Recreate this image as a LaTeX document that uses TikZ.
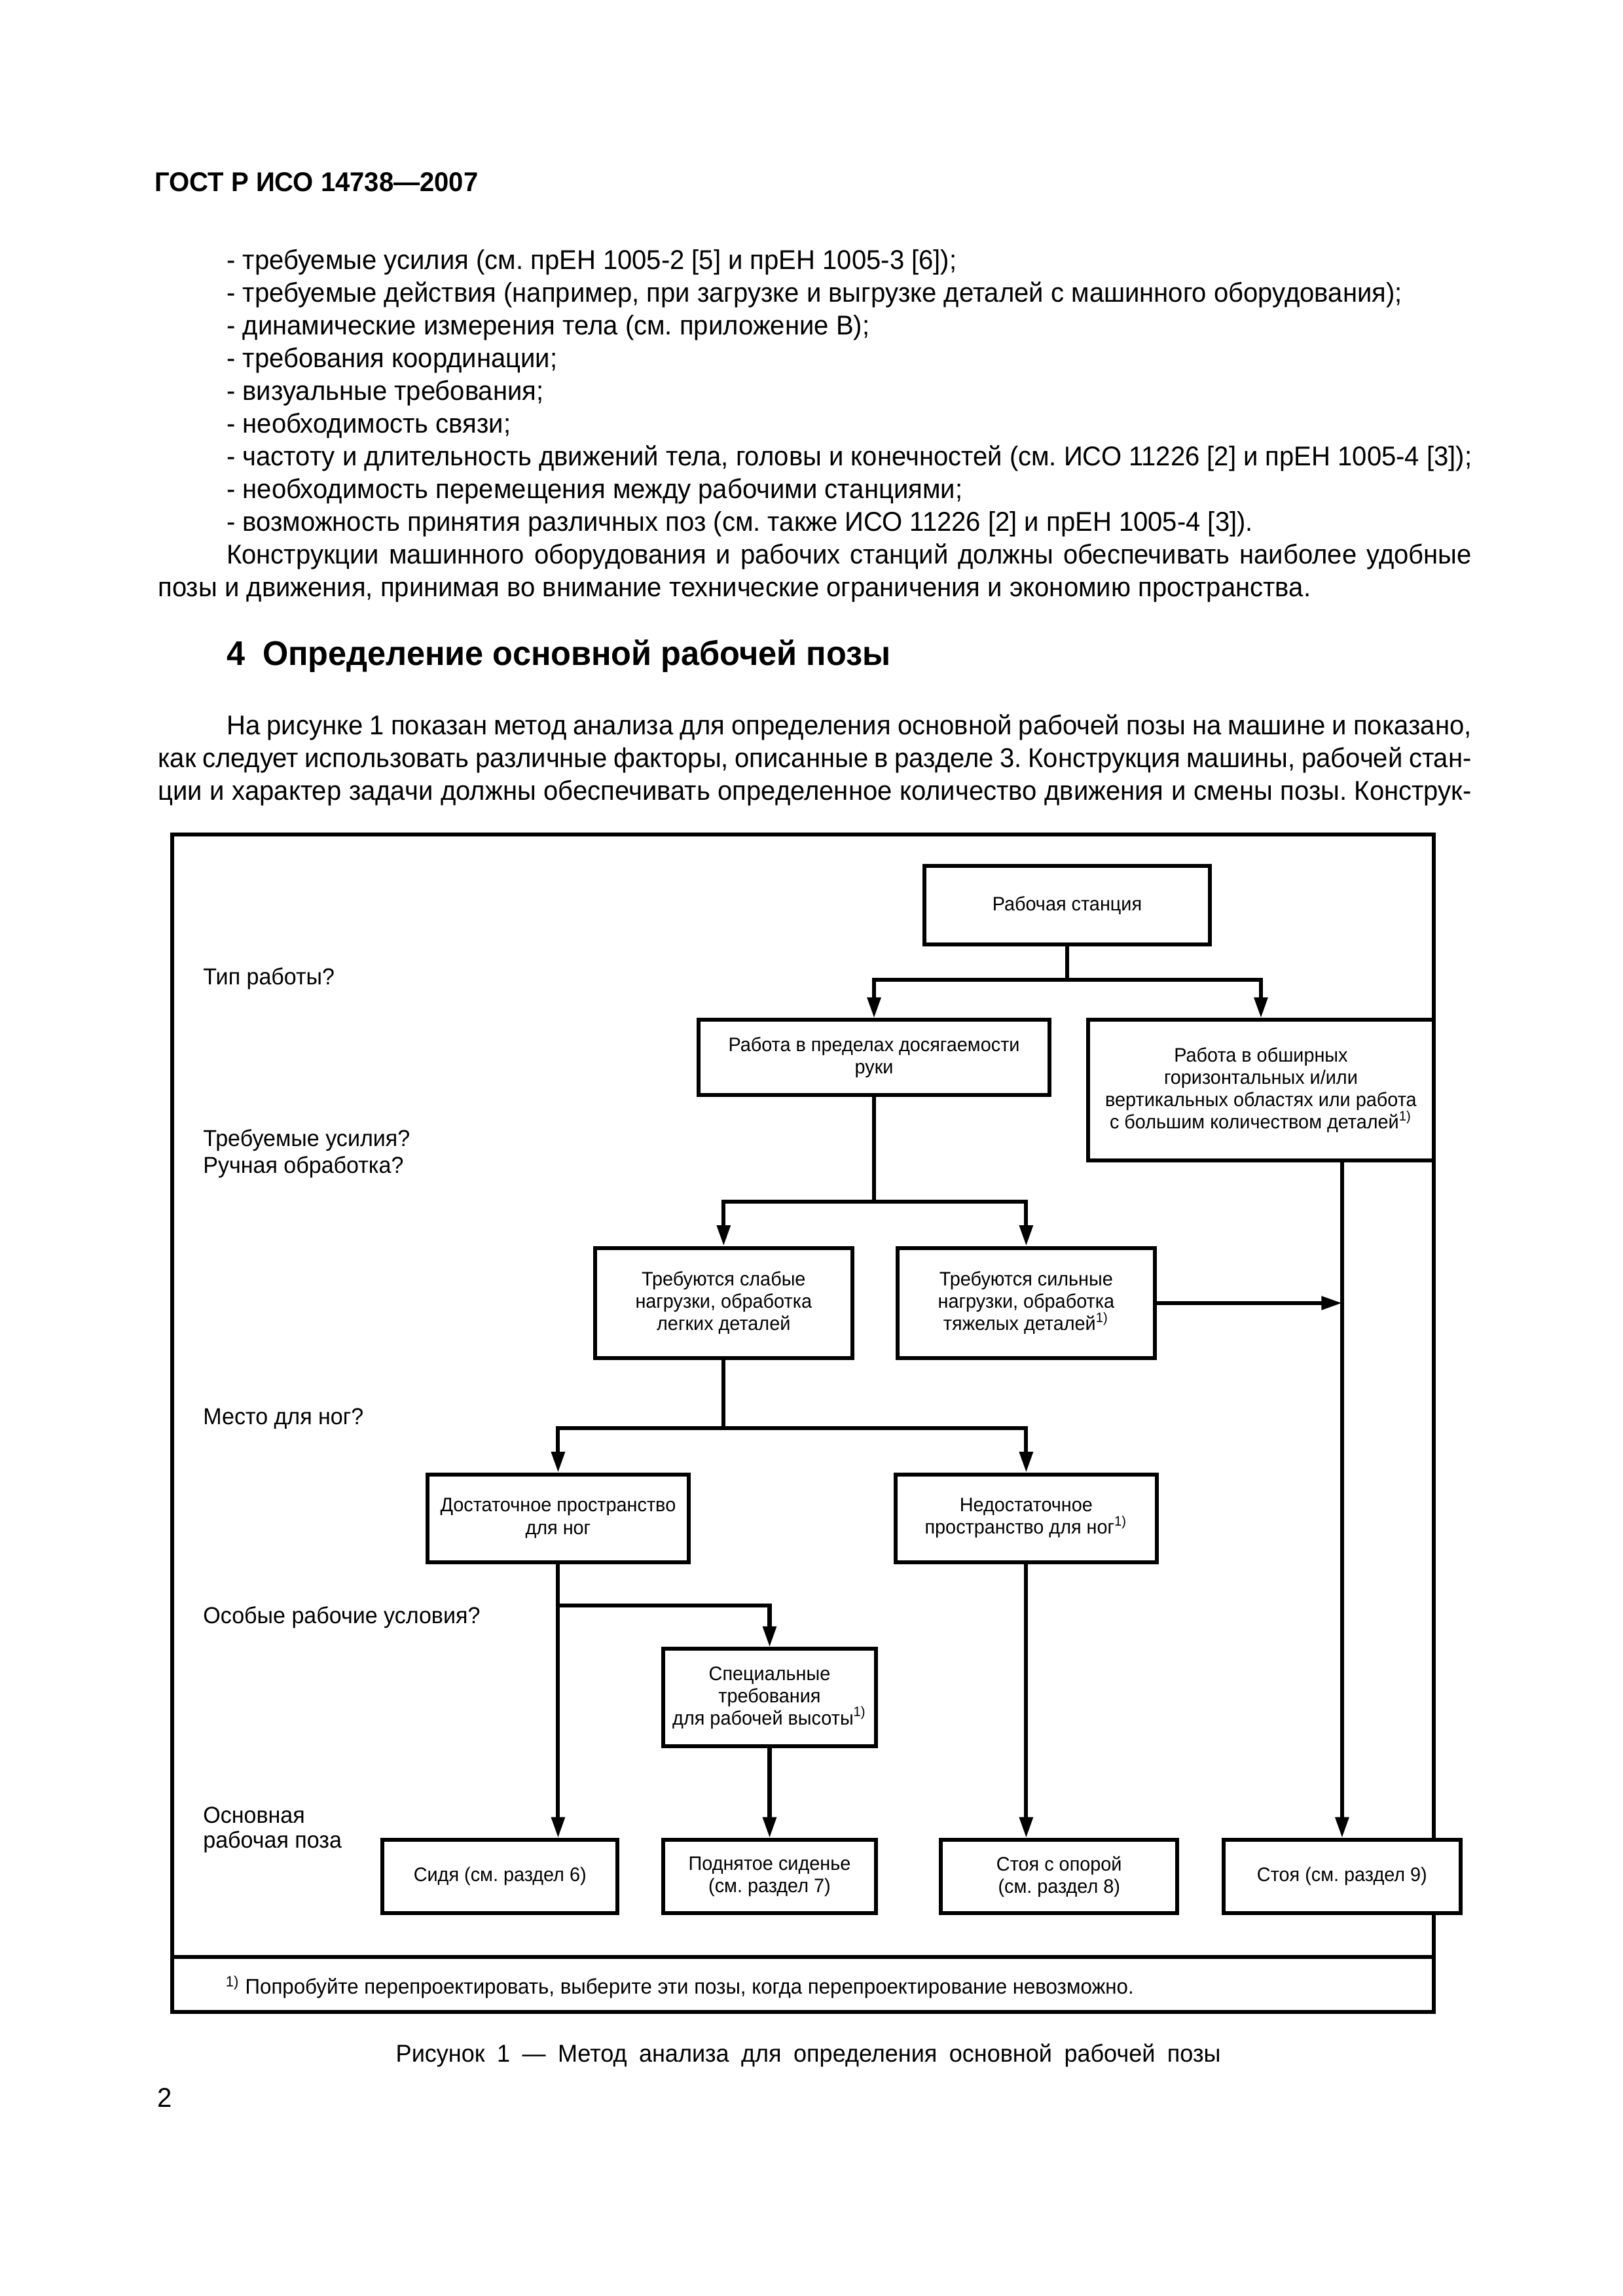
\documentclass[tikz,border=0pt]{standalone}
\usepackage{fontspec}
\setmainfont[FakeStretch=0.965]{Liberation Sans}
\usetikzlibrary{arrows.meta, calc}
\frenchspacing

\newcommand{\pxu}{0.190909mm}

\tikzset{
  txt/.style={anchor=base west, inner sep=0pt, font=\fontsize{10}{12}\selectfont},
  lbl/.style={anchor=base west, inner sep=0pt, font=\fontsize{8.5}{9.9}\selectfont},
  flowbox/.style 2 args={draw, fill=white, align=center, inner sep=0pt,
    minimum width=#1*\pxu, minimum height=#2*\pxu, font=\fontsize{7.2}{8.2}\selectfont},
  arr/.style={-{Triangle[length=7.6pt, width=4.8pt]}}
}

\begin{document}
\begin{tikzpicture}[x=\pxu, y=-\pxu, line width=1.45pt]
    \fill[white] (0,0) rectangle (1100,1556.6);

    % Page header
    \node[txt, font=\bfseries\fontsize{10}{12}\selectfont] (gost) at (103.6,129.9) {ГОСТ Р ИСО 14738—2007};

    % List
    \node[txt] (l1) at (152.3,182.7) {- требуемые усилия (см. прЕН 1005-2 [5] и прЕН 1005-3 [6]);};
    \node[txt] (l2) at (152.3,204.9) {- требуемые действия (например, при загрузке и выгрузке деталей с машинного оборудования);};
    \node[txt] (l3) at (152.3,227.0) {- динамические измерения тела (см. приложение В);};
    \node[txt] (l4) at (152.3,249.2) {- требования координации;};
    \node[txt] (l5) at (152.3,271.4) {- визуальные требования;};
    \node[txt] (l6) at (152.3,293.6) {- необходимость связи;};
    \node[txt] (l7) at (152.3,315.8) {- частоту и длительность движений тела, головы и конечностей (см. ИСО 11226 [2] и прЕН 1005-4 [3]);};
    \node[txt] (l8) at (152.3,337.9) {- необходимость перемещения между рабочими станциями;};
    \node[txt] (l9) at (152.3,360.1) {- возможность принятия различных поз (см. также ИСО 11226 [2] и прЕН 1005-4 [3]).};
    \node[txt] (p1) at (152.3,382.3) {\makebox[161.07mm][s]{Конструкции машинного оборудования и рабочих станций должны обеспечивать наиболее удобные}};
    \node[txt] (p2) at (105.8,404.5) {позы и движения, принимая во внимание технические ограничения и экономию пространства.};

    % Section
    \node[txt, font=\bfseries\fontsize{12.6}{14}\selectfont] (sec) at (152.3,451.1) {4\hspace{6.5pt}Определение основной рабочей позы};
    \node[txt] (s1) at (152.3,498.2) {\makebox[161.07mm][s]{На рисунке 1 показан метод анализа для определения основной рабочей позы на машине и показано,}};
    \node[txt] (s2) at (105.8,520.4) {\makebox[169.95mm][s]{как следует использовать различные факторы, описанные в разделе 3. Конструкция машины, рабочей стан-}};
    \node[txt] (s3) at (105.8,542.6) {\makebox[169.95mm][s]{ции и характер задачи должны обеспечивать определенное количество движения и смены позы. Конструк-}};

    % Frame
    \draw (116.5,565.8) rectangle (971.8,1364);
    \draw (116.5,1326.8) -- (971.8,1326.8);

    % Questions
    \node[lbl] (q1) at (136.4,667.5) {Тип работы?};
    \node[lbl] (q2) at (136.4,777.3) {Требуемые усилия?};
    \node[lbl] (q3) at (136.4,795.5) {Ручная обработка?};
    \node[lbl] (q4) at (136.4,965.9) {Место для ног?};
    \node[lbl] (q5) at (136.4,1100.5) {Особые рабочие условия?};
    \node[lbl] (q6) at (136.4,1235.8) {Основная};
    \node[lbl] (q7) at (136.4,1252.8) {рабочая поза};

    % Boxes
    \node[flowbox={193.7}{53}] (station) at (723.25,613.7) {Рабочая станция};
    \node[flowbox={237.8}{50.7}] (reach) at (592.4,716.85) {Работа в пределах досягаемости\\руки};
    \node[flowbox={234.4}{95.4}] (wide) at (854.6,739.2) {Работа в обширных\\горизонтальных и/или\\вертикальных областях или работа\\с большим количеством деталей\textsuperscript{1)}};
    \node[flowbox={174.5}{74.8}] (weak) at (490.45,883.4) {Требуются слабые\\нагрузки, обработка\\легких деталей};
    \node[flowbox={174.4}{74.8}] (strong) at (695.5,883.4) {Требуются сильные\\нагрузки, обработка\\тяжелых деталей\textsuperscript{1)}};
    \node[flowbox={176.7}{59.4}] (enough) at (378.25,1029.3) {Достаточное пространство\\для ног};
    \node[flowbox={176.8}{59.4}] (notenough) at (695.5,1029.3) {Недостаточное\\пространство для ног\textsuperscript{1)}};
    \node[flowbox={143.8}{66.1}] (special) at (521.6,1150.95) {Специальные\\требования\\для рабочей высоты\textsuperscript{1)}};
    \node[flowbox={159.2}{49.9}] (sit) at (338.9,1272.25) {Сидя (см. раздел 6)};
    \node[flowbox={143.8}{49.9}] (raised) at (521.6,1272.25) {Поднятое сиденье\\(см. раздел 7)};
    \node[flowbox={160.3}{49.9}] (support) at (717.85,1272.25) {Стоя с опорой\\(см. раздел 8)};
    \node[flowbox={160.8}{49.9}] (stand) at (909.6,1272.25) {Стоя (см. раздел 9)};

    % Type of work
    \coordinate (t1) at (723.25,664.4);
    \draw[arr] (station.south) -- (t1) -| (reach.north);
    \draw[arr] (t1) -| (wide.north);

    % Required forces
    \coordinate (t2) at (592.4,814.7);
    \draw[arr] (reach.south) -- (t2) -| (weak.north);
    \draw[arr] (t2) -| (strong.north);
    \draw[arr] (strong.east) -- (strong.east -| stand.north);
    \draw[arr] (wide.south -| stand.north) -- (stand.north);

    % Legroom
    \coordinate (t3) at (490.45,968.4);
    \draw[arr] (weak.south) -- (t3) -| (enough.north);
    \draw[arr] (t3) -| (notenough.north);

    % Special conditions
    \coordinate (t4) at (378.25,1088.6);
    \draw[arr] (enough.south) -- (enough.south |- sit.north);
    \draw[arr] (t4) -| (special.north);
    \draw[arr] (special.south) -- (raised.north);
    \draw[arr] (notenough.south) -- (notenough.south |- support.north);

    % Footnote and caption
    \node[txt, font=\fontsize{7.8}{9}\selectfont] (note) at (151.7,1352) {\textsuperscript{1)}\hspace{2pt}Попробуйте перепроектировать, выберите эти позы, когда перепроектирование невозможно.};
    \node[txt, font=\fontsize{9}{11}\selectfont] (cap) at (267,1397.8) {\makebox[106.72mm][s]{Рисунок 1 — Метод анализа для определения основной рабочей позы}};
    \node[txt] (page) at (105.3,1428.5) {2};

\end{tikzpicture}
\end{document}
